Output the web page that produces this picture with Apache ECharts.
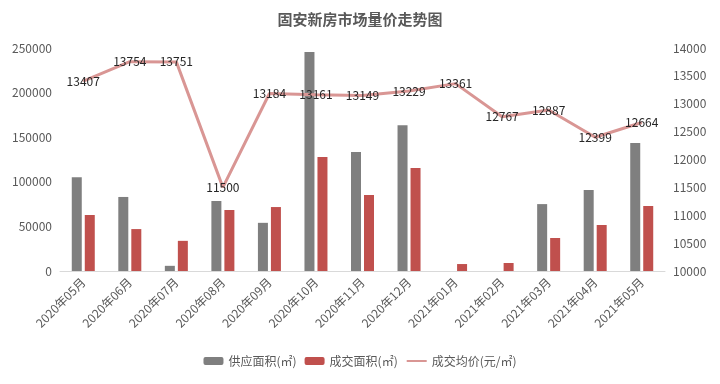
<!DOCTYPE html>
<html><head><meta charset="utf-8">
<script src="https://cdn.jsdelivr.net/npm/echarts@6/dist/echarts.min.js"></script>
<style>html,body{margin:0;padding:0;background:#fff}#c{width:720px;height:384px}</style>
</head><body><div id="c"></div>
<script>
var categories = ['2020年05月','2020年06月','2020年07月','2020年08月','2020年09月','2020年10月','2020年11月','2020年12月','2021年01月','2021年02月','2021年03月','2021年04月','2021年05月'];
var supplyArea = [105000, 83000, 5800, 78500, 54000, 245500, 133500, 163500, 0, 0, 75000, 90800, 143500];
var dealArea = [62800, 47000, 33800, 68400, 71700, 127800, 85200, 115500, 7800, 9000, 37000, 51600, 72900];
var avgPrice = [13407, 13754, 13751, 11500, 13184, 13161, 13149, 13229, 13361, 12767, 12887, 12399, 12664];
var leftTicks = [0, 250000, 50000];
var rightTicks = [10000, 14000, 500];

var chart = echarts.init(document.getElementById('c'));
var font = '"Microsoft YaHei","Noto Sans CJK SC",sans-serif';
function plain(v){ return String(v); }
chart.setOption({
  animation: false,
  title: {text: '固安新房市场量价走势图', left: 'center', top: 7,
    textStyle: {fontSize: 15, fontWeight: 'bold', color: '#595959', fontFamily: font}},
  legend: {bottom: 12, left: 'center', itemWidth: 20, itemHeight: 8, itemGap: 8,
    textStyle: {fontSize: 12, color: '#595959', fontFamily: font},
    data: ['供应面积(㎡)', '成交面积(㎡)', {name: '成交均价(元/㎡)', itemStyle: {opacity: 0}}]},
  grid: {left: 60, right: 55, top: 48, bottom: 113},
  xAxis: {type: 'category', data: categories,
    axisLine: {lineStyle: {color: '#d9d9d9'}}, axisTick: {show: false},
    axisLabel: {rotate: 45, fontSize: 12, color: '#595959', fontFamily: font, interval: 0, margin: 9}},
  yAxis: [
    {type: 'value', min: leftTicks[0], max: leftTicks[1], interval: leftTicks[2],
      splitLine: {show: false}, axisLine: {show: false}, axisTick: {show: false},
      axisLabel: {fontSize: 12, color: '#595959', fontFamily: font, margin: 8, formatter: plain}},
    {type: 'value', min: rightTicks[0], max: rightTicks[1], interval: rightTicks[2],
      splitLine: {show: false}, axisLine: {show: false}, axisTick: {show: false},
      axisLabel: {fontSize: 12, color: '#595959', fontFamily: font, margin: 8, formatter: plain}}
  ],
  series: [
    {name: '供应面积(㎡)', type: 'bar', data: supplyArea, barWidth: 10, barGap: '30%',
      itemStyle: {color: '#7f7f7f'}},
    {name: '成交面积(㎡)', type: 'bar', data: dealArea, barWidth: 10,
      itemStyle: {color: '#c0504d'}},
    {name: '成交均价(元/㎡)', type: 'line', yAxisIndex: 1, data: avgPrice,
      symbol: 'circle', symbolSize: 1, showSymbol: true,
      itemStyle: {color: '#d99694', borderWidth: 0},
      lineStyle: {color: '#d99694', width: 3},
      label: {show: true, position: 'inside', fontSize: 12, color: '#262626', fontFamily: font,
        formatter: function(p){ return String(p.value); }}}
  ]
});
</script></body></html>
